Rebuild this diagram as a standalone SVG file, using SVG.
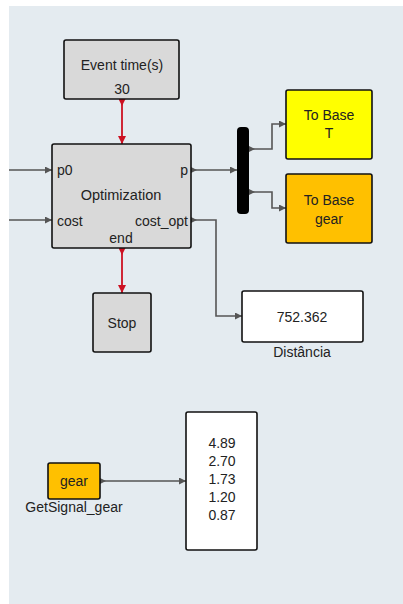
<svg xmlns="http://www.w3.org/2000/svg" width="403" height="604" viewBox="0 0 403 604">
<style>
text{font-family:"Liberation Sans",Arial,sans-serif;font-size:14px;fill:#222;text-anchor:middle}
.box{stroke:#111;stroke-width:1.6}
.grey{fill:#d9d9d9}
.white{fill:#fff}
.yellow{fill:#ffff00}
.orange{fill:#ffc000}
.c{fill:none;stroke:#555;stroke-width:1.6}
.r{fill:none;stroke:#cc1122;stroke-width:1.8}
</style>
<defs>
<marker id="ah" viewBox="0 0 8 8" refX="8" refY="4" markerWidth="7" markerHeight="7" markerUnits="userSpaceOnUse" orient="auto"><path d="M0,0L8,4L0,8z" fill="#555"/></marker>
<marker id="as" viewBox="0 0 8 8" refX="0" refY="4" markerWidth="6" markerHeight="6" markerUnits="userSpaceOnUse" orient="auto"><path d="M0,0L8,4L0,8z" fill="#555"/></marker>
<marker id="rh" viewBox="0 0 8 8" refX="8" refY="4" markerWidth="8" markerHeight="8" markerUnits="userSpaceOnUse" orient="auto"><path d="M0,0L8,4L0,8z" fill="#cc1122"/></marker>
<marker id="rs" viewBox="0 0 8 8" refX="0" refY="4" markerWidth="7" markerHeight="7" markerUnits="userSpaceOnUse" orient="auto"><path d="M0,0L8,4L0,8z" fill="#cc1122"/></marker>
</defs>
<rect x="0" y="0" width="403" height="604" fill="#fff"/>
<rect x="9" y="6" width="394" height="598" fill="#e4ebf0"/>
<g id="connectors">
<path class="r" d="M122,99V144" marker-start="url(#rs)" marker-end="url(#rh)"/>
<path class="r" d="M122,248V293" marker-start="url(#rs)" marker-end="url(#rh)"/>
<path class="c" d="M9,170H52" marker-end="url(#ah)"/>
<path class="c" d="M9,220H52" marker-end="url(#ah)"/>
<path class="c" d="M191,170H237" marker-start="url(#as)" marker-end="url(#ah)"/>
<path class="c" d="M249,149H272V124H286" marker-start="url(#as)" marker-end="url(#ah)"/>
<path class="c" d="M249,192H272V208H286" marker-start="url(#as)" marker-end="url(#ah)"/>
<path class="c" d="M191,220H216V316H242" marker-start="url(#as)" marker-end="url(#ah)"/>
<path class="c" d="M100,481H186" marker-start="url(#as)" marker-end="url(#ah)"/>
</g>
<g id="event">
<rect class="box grey" x="64" y="40" width="115" height="59" rx="2"/>
<text x="122" y="70">Event time(s)</text>
<text x="122" y="94">30</text>
</g>
<g id="optimization">
<rect class="box grey" x="52" y="144" width="139" height="104" rx="2"/>
<text x="57" y="175" style="text-anchor:start">p0</text>
<text x="188" y="175" style="text-anchor:end">p</text>
<text x="121" y="200" style="font-size:14.5px">Optimization</text>
<text x="57" y="226" style="text-anchor:start">cost</text>
<text x="188" y="226" style="text-anchor:end">cost_opt</text>
<text x="121" y="243">end</text>
</g>
<g id="mux">
<rect x="237" y="127" width="12" height="87" rx="4" fill="#000"/>
</g>
<g id="tobaseT">
<rect class="box yellow" x="286" y="90" width="86" height="69" rx="2"/>
<text x="329" y="120">To Base</text>
<text x="329" y="138">T</text>
</g>
<g id="tobasegear">
<rect class="box orange" x="286" y="174" width="86" height="69" rx="2"/>
<text x="329" y="205">To Base</text>
<text x="329" y="224">gear</text>
</g>
<g id="stop">
<rect class="box grey" x="93" y="293" width="58" height="59" rx="2"/>
<text x="122" y="328">Stop</text>
</g>
<g id="distancia">
<rect class="box white" x="242" y="291" width="121" height="51" rx="2"/>
<text x="302" y="322">752.362</text>
<text x="302" y="357">Distância</text>
</g>
<g id="getsignal">
<rect class="box orange" x="48" y="463" width="52" height="36" rx="2"/>
<text x="74" y="486">gear</text>
<text x="74" y="512">GetSignal_gear</text>
</g>
<g id="display">
<rect class="box white" x="186" y="412" width="71" height="138" rx="2"/>
<text x="222" y="448">4.89</text>
<text x="222" y="466">2.70</text>
<text x="222" y="484">1.73</text>
<text x="222" y="502">1.20</text>
<text x="222" y="520">0.87</text>
</g>
</svg>
